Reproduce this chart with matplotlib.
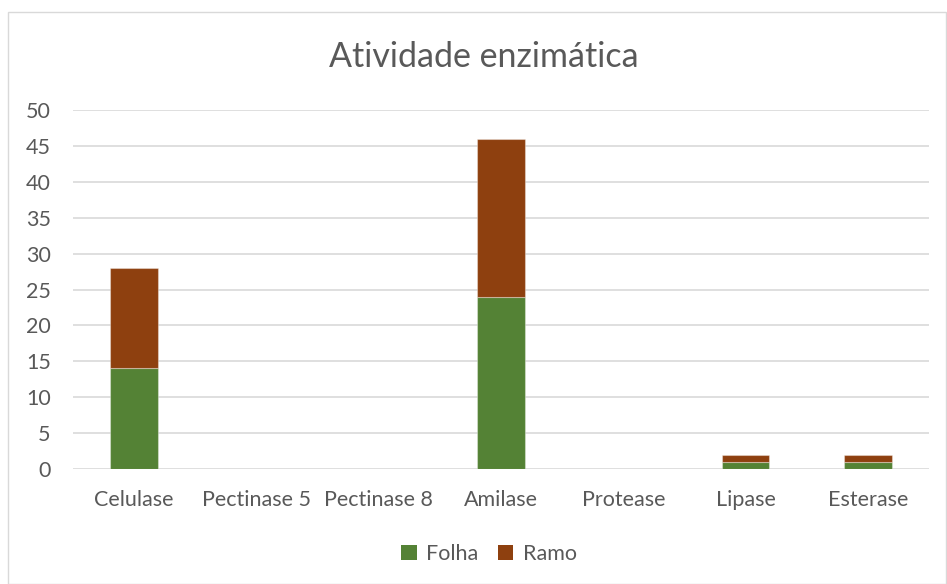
import matplotlib
matplotlib.use("Agg")
import matplotlib.pyplot as plt
from matplotlib.patches import Patch, Rectangle

categories = ["Celulase", "Pectinase 5", "Pectinase 8", "Amilase", "Protease", "Lipase", "Esterase"]
folha = [14, 0, 0, 24, 0, 1, 1]
ramo = [14, 0, 0, 22, 0, 1, 1]
yticks = [0, 5, 10, 15, 20, 25, 30, 35, 40, 45, 50]

green = "#548235"
brown = "#8E400F"
txt = "#595959"
grid = "#D9D9D9"

plt.rcParams['font.family'] = ['Lato', 'DejaVu Sans']

fig = plt.figure(figsize=(9.47, 5.84), dpi=100)
fig.patches.append(Rectangle((8/947, 0), 1 - 8/947 - 1/947, 1 - 12/584,
                             transform=fig.transFigure, fill=False,
                             edgecolor="#D9D9D9", linewidth=1.0))
ax = fig.add_axes([73/947, 1 - 469/584, (929 - 73)/947, (469 - 110)/584])

x = range(len(categories))
ax.bar(x, folha, width=0.39, color=green, edgecolor=(1, 1, 1, 0.35), linewidth=0.8, zorder=3)
ax.bar(x, ramo, width=0.39, bottom=folha, color=brown, edgecolor=(1, 1, 1, 0.35), linewidth=0.8, zorder=3)

ax.set_xlim(-0.5, len(categories) - 0.5)
ax.set_ylim(0, 50)
ax.set_yticks(yticks)
ax.set_xticks(list(x))
ax.set_xticklabels(categories)
for s in ax.spines.values():
    s.set_visible(False)
ax.yaxis.grid(True, color=grid, linewidth=1.2, zorder=0)
ax.set_axisbelow(True)
ax.tick_params(axis='both', length=0, colors=txt, labelsize=15.5)
ax.tick_params(axis='y', pad=16)
ax.tick_params(axis='x', pad=15)

fig.text(484/947, 1 - 57/584, "Atividade enzimática", ha="center", va="center",
         fontsize=24.5, color=txt)

handles = [Patch(facecolor=green, label="Folha"), Patch(facecolor=brown, label="Ramo")]
leg = fig.legend(handles=handles, loc="center", bbox_to_anchor=(489/947, 1 - 554/584),
                 ncol=2, frameon=False, fontsize=15.5, handlelength=0.7, handleheight=0.7,
                 handletextpad=0.45, columnspacing=0.9)
for t in leg.get_texts():
    t.set_color(txt)

fig.savefig("out.png", dpi=100)
